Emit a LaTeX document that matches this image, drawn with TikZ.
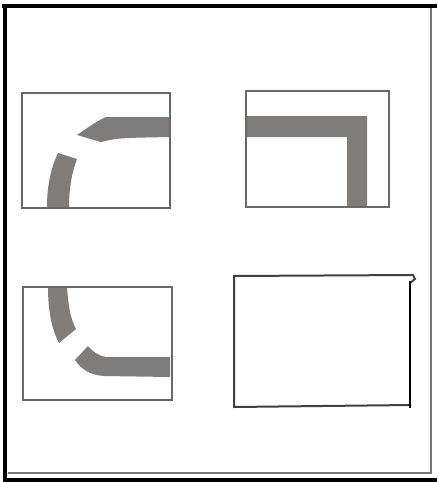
\documentclass[tikz,border=0pt]{standalone}
\begin{document}
\begin{tikzpicture}[x=1pt,y=-1pt,
  band/.style={fill=bandgray,draw=none},
  panel/.style={draw=panelgray,line width=2pt},
  blackline/.style={draw=black,line width=4.5pt},
  frameline/.style={draw=framegray,line width=2.5pt}]
\definecolor{bandgray}{RGB}{128,124,122}
\definecolor{panelgray}{RGB}{105,105,105}
\definecolor{framegray}{RGB}{120,120,120}
\useasboundingbox (0,0) rectangle (437,482);
\fill[white] (0,0) rectangle (437,482);
% outer frame
\draw[frameline] (8,473) -- (431,473) -- (431,7);
\draw[blackline] (2,6) -- (437,6);
\draw[blackline] (5,4) -- (5,482);
\draw[blackline] (3,480) -- (437,480);
% panel 1 (top left)
\fill[band] (170,117) -- (106,117) .. controls (95,122) and (86,129) .. (77,135)
  -- (101,142) .. controls (118,138) .. (170,137) -- cycle;
\fill[band] (47,207) .. controls (47,185) and (51,168) .. (58,153)
  -- (77,159) .. controls (72,172) and (69,188) .. (69,207) -- cycle;
\draw[panel] (22,93) rectangle (170,208);
% panel 2 (top right)
\fill[band] (246,116) -- (367,116) -- (367,207) -- (347,207) -- (347,137) -- (246,137) -- cycle;
\draw[panel] (246,91) rectangle (389,207);
% panel 3 (bottom left)
\fill[band] (48,287) -- (67,287) .. controls (68,303) and (70,318) .. (76,329)
  -- (59,343) .. controls (51,328) and (48,308) .. (48,287) -- cycle;
\fill[band] (170,357) -- (106,357) .. controls (99,356) and (93,352) .. (88,346)
  -- (75,360) .. controls (82,370) and (90,375) .. (104,376) -- (170,377) -- cycle;
\draw[panel] (23,287) rectangle (172,400);
% panel 4 (bottom right)
\draw[draw=black!75,line width=2pt] (410,283) -- (415,279) -- (413,275) -- (234,276)
  -- (234,407) -- (411,405);
\draw[draw=black,line width=2.3pt] (410,281) -- (410,408);
\end{tikzpicture}
\end{document}
